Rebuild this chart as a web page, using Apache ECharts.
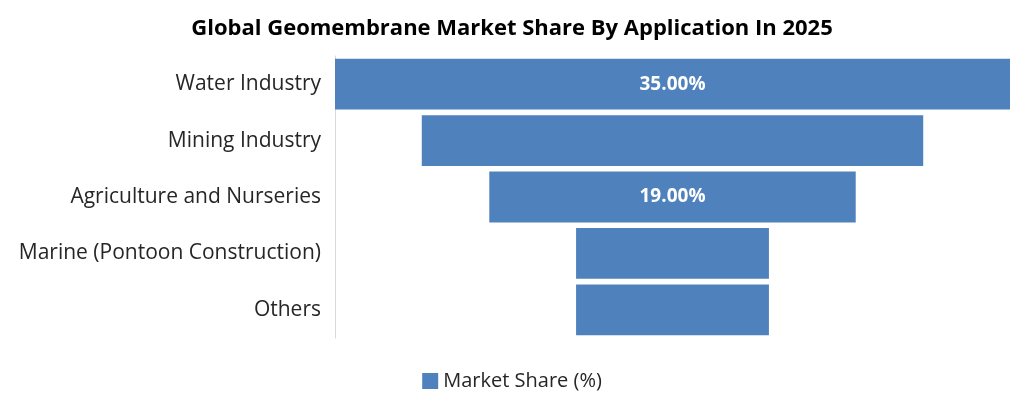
<!DOCTYPE html>
<html><head><meta charset="utf-8">
<script src="https://cdn.jsdelivr.net/npm/echarts@6/dist/echarts.min.js"></script>
<style>html,body{margin:0;padding:0;background:#fff}#c{width:1024px;height:416px}</style>
</head><body><div id="c"></div>
<script>
const categories = ["Water Industry","Mining Industry","Agriculture and Nurseries","Marine (Pontoon Construction)","Others"];
const values = [35, 26, 19, 10, 10];
const labelShown = [true, false, true, false, false];
const maxVal = Math.max(...values);
const offsets = values.map(v => (maxVal - v) / 2);
const font = "'Open Sans', 'Noto Sans', sans-serif";
const chart = echarts.init(document.getElementById('c'));
chart.setOption({
  animation: false,
  title: {text: "Global Geomembrane Market Share By Application In 2025", left: 'center', top: 13,
    textStyle: {fontFamily: font, fontSize: 22, fontWeight: 'bold', color: '#000'}},
  legend: {data: ["Market Share (%)"], bottom: 20, itemWidth: 16, itemHeight: 16, icon: 'rect',
    textStyle: {fontFamily: font, fontSize: 20, color: '#262626'}},
  grid: {left: 335, right: 14, top: 56, bottom: 78},
  xAxis: {type: 'value', min: 0, max: maxVal, show: false},
  yAxis: {type: 'category', data: categories, inverse: true,
    axisLine: {show: true, lineStyle: {color: '#d9d9d9'}}, axisTick: {show: false},
    axisLabel: {fontFamily: font, fontSize: 21, color: '#262626', margin: 14}},
  series: [
    {type: 'bar', stack: 's', data: offsets, itemStyle: {color: 'transparent'}, silent: true, barCategoryGap: '10%'},
    {name: "Market Share (%)", type: 'bar', stack: 's', barCategoryGap: '10%',
     data: values.map((v, i) => ({value: v, label: {show: labelShown[i]}})),
     itemStyle: {color: '#4f81bd'},
     label: {position: 'inside', color: '#fff', fontFamily: font, fontSize: 19, fontWeight: 'bold',
       formatter: p => p.value.toFixed(2) + '%'}}
  ]
});
</script></body></html>
